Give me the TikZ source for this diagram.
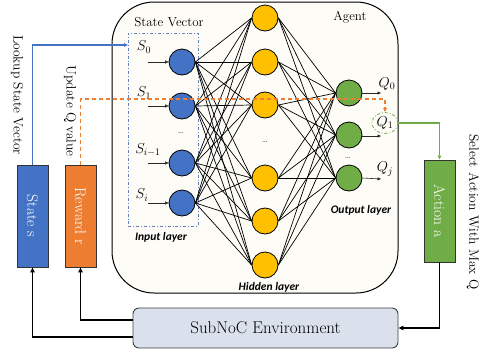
\documentclass[tikz,border=0pt]{standalone}
\usepackage{fontspec}
\newfontfamily\carlito{Carlito}
\usetikzlibrary{arrows.meta,shapes.geometric}
\definecolor{cblue}{HTML}{4472C4}
\definecolor{corange}{HTML}{ED7D31}
\definecolor{cgreen}{HTML}{70AD47}
\definecolor{cyellow}{HTML}{FFC000}
\definecolor{cream}{HTML}{FDFCF7}
\definecolor{envfill}{HTML}{DAE1ED}
\definecolor{svcol}{HTML}{6284BE}
\pgfdeclarelayer{back}
\pgfdeclarelayer{mid}
\pgfsetlayers{back,mid,main}
\tikzset{
  neuron/.style={circle, draw=black, line width=0.8pt, minimum size=26pt, inner sep=0pt},
  inneuron/.style={neuron, fill=cblue},
  hidneuron/.style={neuron, fill=cyellow},
  outneuron/.style={neuron, fill=cgreen},
  net/.style={line width=0.7pt, black},
  tip/.style={-{Triangle[length=4pt,width=3.5pt]}},
  smallarr/.style={line width=0.6pt, black!85, -{Triangle[length=3.5pt,width=3pt]}},
  sidebox/.style={draw=black!80, line width=0.9pt, minimum width=31pt, minimum height=102pt, inner sep=0pt, text=white, font=\fontsize{15.5}{17}\selectfont},
  rotlabel/.style={rotate=-90, font=\fontsize{13.5}{15}\selectfont, inner sep=0pt},
  layerlab/.style={font=\carlito\bfseries\itshape\fontsize{11.5}{13}\selectfont, inner sep=0pt},
  mathlab/.style={font=\fontsize{14}{16}\selectfont, inner sep=0pt},
  dotlab/.style={font=\fontsize{9}{10}\selectfont, inner sep=0pt},
  blackarr/.style={line width=1.3pt, black, -{Triangle[length=5pt,width=4.5pt]}},
}
\begin{document}
\begin{tikzpicture}[x=1pt,y=-1pt]
\useasboundingbox (0,0) rectangle (484,354);

% Agent container
\begin{pgfonlayer}{back}
\node[draw=black, line width=1pt, fill=cream, rounded corners=42pt, minimum width=286pt, minimum height=291pt, inner sep=0pt] (agent) at (255,147.5) {};
\node[draw=svcol, line width=0.9pt, dash dot, minimum width=70pt, minimum height=193pt, inner sep=0pt] (svbox) at (163,129.5) {};
\end{pgfonlayer}
\node[font=\fontsize{13}{15}\selectfont, inner sep=0pt] (agentlab) at (350,17) {Agent};
\node[font=\fontsize{13}{15}\selectfont, inner sep=0pt] (svlab) at (169,22) {State Vector};

% Neurons
\node[inneuron] (i0) at (182,62) {};
\node[inneuron] (i1) at (182,106) {};
\node[inneuron] (i2) at (182,163) {};
\node[inneuron] (i3) at (182,203) {};
\node[hidneuron] (h1) at (265,18) {};
\node[hidneuron] (h2) at (265,62) {};
\node[hidneuron] (h3) at (265,105) {};
\node[hidneuron] (h4) at (265,178) {};
\node[hidneuron] (h5) at (265,221) {};
\node[hidneuron] (h6) at (265,265) {};
\node[outneuron] (o1) at (349,93) {};
\node[outneuron] (o2) at (349,135) {};
\node[outneuron] (o3) at (349,178) {};

\begin{pgfonlayer}{mid}
\foreach \i in {0,...,3}{\foreach \h in {1,...,6}{\draw[net] (i\i.east) -- (h\h.west);}}
\foreach \h in {1,...,6}{\foreach \o in {1,...,3}{\draw[net] (h\h.east) -- (o\o.west);}}
\end{pgfonlayer}

% dots
\node[dotlab] (d1) at (181,133) {\ldots};
\node[dotlab] (d2) at (265,142) {\ldots};
\node[dotlab] (d3) at (348,158) {\ldots};

% input labels and arrows
\node[mathlab] (s0) at (144,47) {$S_0$};
\node[mathlab] (s1) at (144,93) {$S_1$};
\node[mathlab] (s2) at (148,150) {$S_{i-1}$};
\node[mathlab] (s3) at (142,195) {$S_i$};
\coordinate (ia0) at (148,62);
\coordinate (ia1) at (148,106);
\coordinate (ia2) at (148,163);
\coordinate (ia3) at (148,203);
\foreach \i in {0,...,3}{\draw[smallarr] (ia\i) -- (i\i.west);}

% outputs
\coordinate (oa1) at (381,93);
\coordinate (oa2) at (381,136);
\coordinate (oa3) at (381,179);
\draw[smallarr] (o1.east) -- (oa1);
\draw[smallarr] (o2.east |- oa2) -- (oa2);
\draw[smallarr] (o3.east) -- (oa3);
\node[mathlab] (q0) at (387,84) {$Q_0$};
\node[draw=cgreen, line width=0.8pt, dash dot, ellipse, minimum width=26pt, minimum height=21pt, inner sep=0pt, font=\fontsize{14}{16}\selectfont] (q1) at (385,123) {$Q_1$};
\node[mathlab] (qj) at (385,169) {$Q_j$};

% layer labels
\node[layerlab] (inl) at (161,237) {Input layer};
\node[layerlab] (hidl) at (269,287) {Hidden layer};
\node[layerlab] (outl) at (361,210) {Output layer};

% side boxes
\node[sidebox, fill=cblue] (state) at (32.5,216) {\rotatebox{-90}{State s}};
\node[sidebox, fill=corange] (rew) at (80.5,216) {\rotatebox{-90}{Reward r}};
\node[sidebox, fill=cgreen] (action) at (439.5,211) {\rotatebox{-90}{Action a}};

% environment
\node[draw=black!75, line width=0.9pt, fill=envfill, rounded corners=6pt, minimum width=265pt, minimum height=40pt, inner sep=0pt, font=\fontsize{17}{19}\selectfont] (env) at (265.5,328) {SubNoC Environment};

% rotated labels
\node[rotlabel] (lk) at (17,95) {Lookup State Vector};
\node[rotlabel] (uq) at (70,111) {Update Q value};
\node[rotlabel] (sa) at (473,212) {Select Action With Max Q};

% connectors
\coordinate (svin) at (128,45);
\draw[cblue, line width=1.4pt, tip] (state.north) |- (svin);
\draw[corange, line width=1.1pt, dashed, dash pattern=on 4pt off 3pt, tip] (rew.north) -- (rew.north |- 0,99) -| (q1.north);
\draw[cgreen, line width=1.4pt, tip] (q1.east) -| (action.north);
\draw[blackarr] (env.west |- 0,337) -| (state.south);
\draw[blackarr] (env.west |- 0,320) -| (rew.south);
\draw[blackarr] (action.south) |- (env.east);
\end{tikzpicture}
\end{document}
